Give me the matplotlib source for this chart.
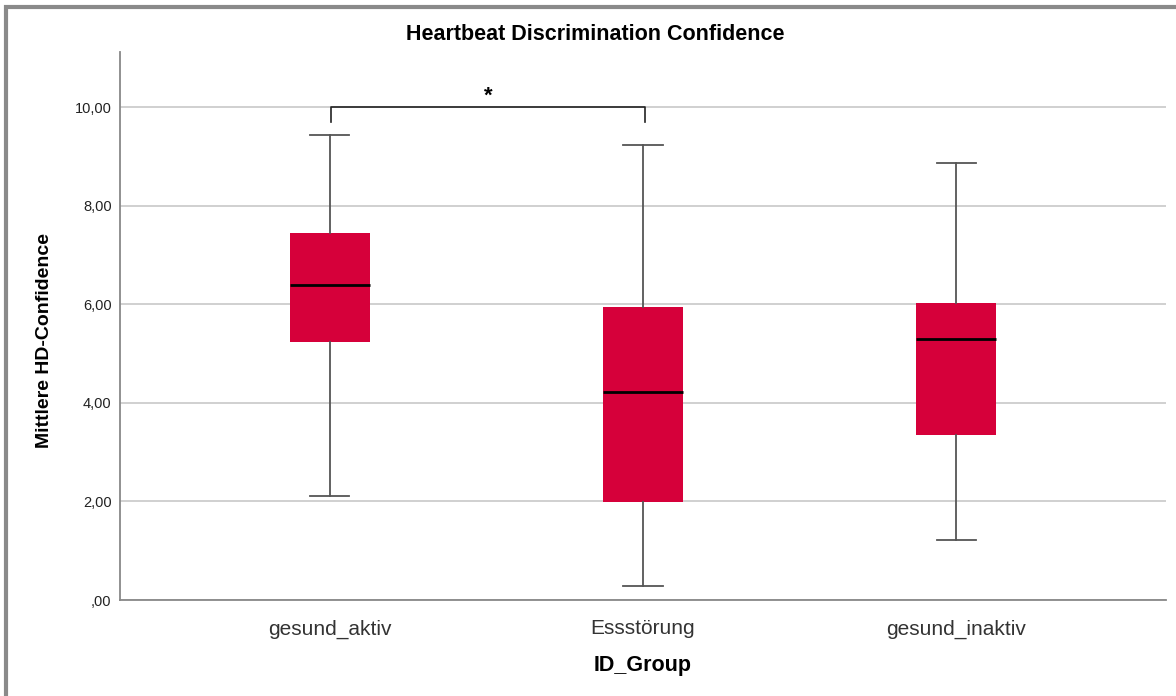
import matplotlib.pyplot as plt
from matplotlib.patches import Rectangle

plt.rcParams['font.family'] = ['Liberation Sans', 'DejaVu Sans']

# Values
groups = ['gesund_aktiv', 'Essstörung', 'gesund_inaktiv']
whislo = [2.11, 0.28, 1.22]
q1 = [5.23, 1.99, 3.35]
med = [6.39, 4.22, 5.29]
q3 = [7.44, 5.94, 6.02]
whishi = [9.43, 9.23, 8.86]
yticks = [0, 2, 4, 6, 8, 10]
ytick_labels = [',00', '2,00', '4,00', '6,00', '8,00', '10,00']

red = '#d6003a'

fig = plt.figure(figsize=(11.76, 6.96), dpi=100)
ax = fig.add_axes([120 / 1176, 1 - 600 / 696, 1046 / 1176, 548 / 696])

stats = []
for i, g in enumerate(groups):
    stats.append(dict(label=g, whislo=whislo[i], q1=q1[i], med=med[i],
                      q3=q3[i], whishi=whishi[i], fliers=[]))

ax.bxp(stats, positions=range(len(groups)), widths=0.255, patch_artist=True,
       showfliers=False,
       boxprops=dict(facecolor=red, edgecolor=red, linewidth=0),
       medianprops=dict(color='black', linewidth=2),
       whiskerprops=dict(color='#555555', linewidth=1.3),
       capprops=dict(color='#555555', linewidth=1.3),
       capwidths=0.125, zorder=3)

ax.set_xlim(-0.67, 2.67)
ax.set_ylim(0, 11.12)
ax.set_yticks(yticks)
ax.set_yticklabels(ytick_labels, fontsize=10.5, color='#222222')
ax.yaxis.grid(True, color='#c8c8c8', linewidth=1.2)
ax.set_axisbelow(True)
ax.tick_params(axis='y', length=0, pad=6)
ax.tick_params(axis='x', length=0, pad=14, labelsize=15, labelcolor='#333333')

for s in ['top', 'right']:
    ax.spines[s].set_visible(False)
for s in ['left', 'bottom']:
    ax.spines[s].set_color('#888888')
    ax.spines[s].set_linewidth(1.3)

# title and y label sit where SPSS put them, not centred on the axes
fig.text(595 / 1176, 1 - 35 / 696, 'Heartbeat Discrimination Confidence',
         fontsize=15.5, fontweight='bold', ha='center', va='center')
fig.text(45 / 1176, 1 - 340 / 696, 'Mittlere HD-Confidence', fontsize=14,
         fontweight='bold', rotation=90, ha='center', va='center')
fig.text(643 / 1176, 1 - 665 / 696, 'ID_Group', fontsize=15.5,
         fontweight='bold', ha='center', va='center')

# significance bracket between group 0 and 1
ax.plot([0.005, 0.005, 1.005, 1.005], [9.7, 10.0, 10.0, 9.7], color='#222222',
        linewidth=1.2, zorder=4)
ax.text(0.505, 10.0, '*', ha='center', va='bottom', fontsize=16,
        fontweight='bold')

# outer frame like the SPSS viewer
fig.patches.append(Rectangle((6 / 1176, -0.1), 1.2, 1 - 7 / 696 + 0.1,
                             transform=fig.transFigure, fill=False,
                             edgecolor='#8a8a8a', linewidth=3))

fig.savefig('out.png', dpi=100)
